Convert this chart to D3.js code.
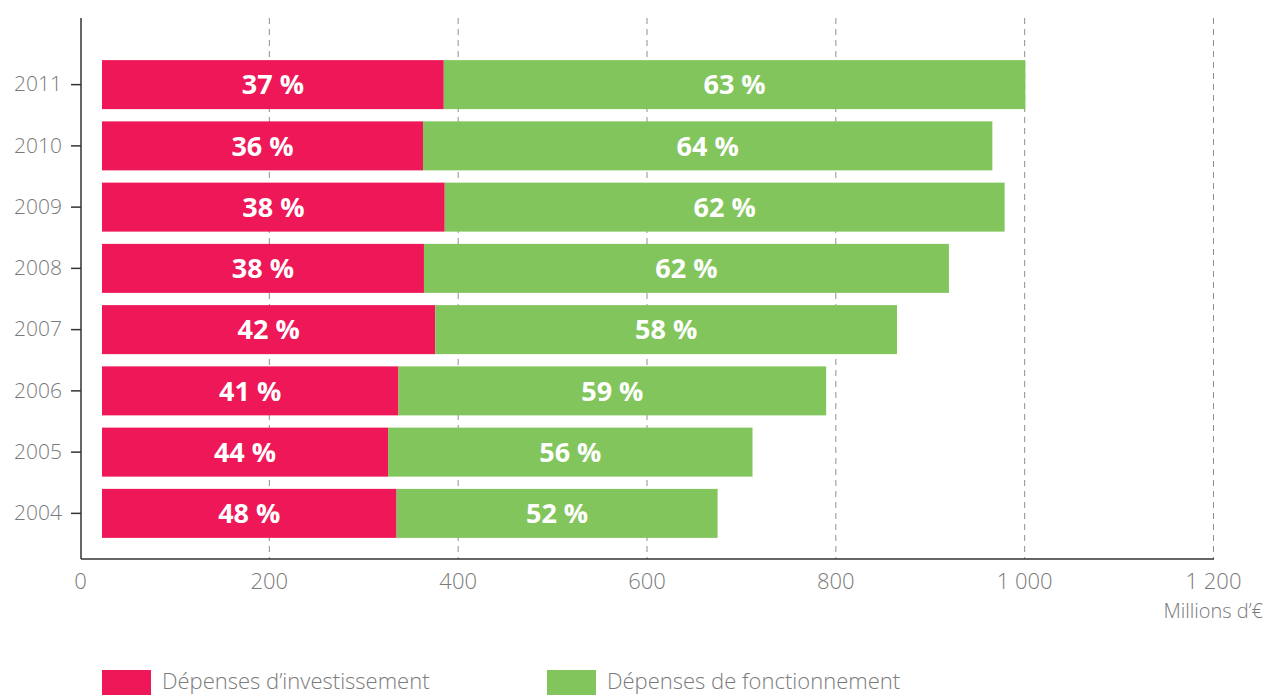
<!DOCTYPE html>
<html>
<head>
<meta charset="utf-8">
<script src="https://cdn.jsdelivr.net/npm/d3@7"></script>
<style>
  body { margin: 0; background: #fff; }
  svg { display: block; font-family: "Open Sans", sans-serif; }
</style>
</head>
<body>
<script>
// data, millions of euros
let years = ["2011", "2010", "2009", "2008", "2007", "2006", "2005", "2004"];
let investissement = [362, 340, 363, 341, 353, 314, 303, 312];
let fonctionnement = [616, 603, 593, 556, 489, 453, 386, 340];
let pctInvest = ["37 %", "36 %", "38 %", "38 %", "42 %", "41 %", "44 %", "48 %"];
let pctFonct = ["63 %", "64 %", "62 %", "62 %", "58 %", "59 %", "56 %", "52 %"];
let xTicks = [0, 200, 400, 600, 800, 1000, 1200];
let xTickLabels = ["0", "200", "400", "600", "800", "1 000", "1 200"];
let seriesNames = ["Dépenses d’investissement", "Dépenses de fonctionnement"];

let width = 1266;
let height = 695;
let red = "#ee1757";
let green = "#83c55d";
let textGray = "#7a7a7a";

let svg = d3.select("body").append("svg")
    .attr("width", width)
    .attr("height", height);

let x = d3.scaleLinear()
    .domain([0, 1200])
    .range([80, 1213]);

// the bars sit a little right of the axis in the original
let barGap = 22;
let xBar = d3.scaleLinear()
    .domain([0, 1200])
    .range([x(0) + barGap, x(1200) + barGap]);

let y = d3.scaleBand()
    .domain(years)
    .range([54, 544])
    .paddingInner(0.2)
    .paddingOuter(0.1);

let axisTop = 18;
let axisBottom = 559;

// dashed grid lines
svg.selectAll(".grid")
    .data(xTicks.slice(1))
    .join("line")
    .attr("class", "grid")
    .attr("x1", d => x(d) + 0.5)
    .attr("x2", d => x(d) + 0.5)
    .attr("y1", axisTop)
    .attr("y2", axisBottom)
    .attr("stroke", "#8f8f8f")
    .attr("stroke-width", 1)
    .attr("stroke-dasharray", "6,5");

let rows = years.map((yr, i) => ({
    year: yr,
    inv: investissement[i],
    fon: fonctionnement[i],
    pInv: pctInvest[i],
    pFon: pctFonct[i]
}));

// red part
svg.selectAll(".inv")
    .data(rows)
    .join("rect")
    .attr("class", "inv")
    .attr("x", xBar(0))
    .attr("y", d => y(d.year))
    .attr("width", d => xBar(d.inv) - xBar(0))
    .attr("height", y.bandwidth())
    .attr("fill", red);

// green part
svg.selectAll(".fon")
    .data(rows)
    .join("rect")
    .attr("class", "fon")
    .attr("x", d => xBar(d.inv))
    .attr("y", d => y(d.year))
    .attr("width", d => xBar(d.inv + d.fon) - xBar(d.inv))
    .attr("height", y.bandwidth())
    .attr("fill", green);

// percentage labels
svg.selectAll(".linv")
    .data(rows)
    .join("text")
    .attr("class", "linv")
    .attr("x", d => (xBar(0) + xBar(d.inv)) / 2)
    .attr("y", d => y(d.year) + y.bandwidth() / 2)
    .attr("dy", "0.36em")
    .attr("text-anchor", "middle")
    .attr("fill", "#fff")
    .style("font-weight", 700)
    .style("font-size", "27px")
    .text(d => d.pInv);

svg.selectAll(".lfon")
    .data(rows)
    .join("text")
    .attr("class", "lfon")
    .attr("x", d => (xBar(d.inv) + xBar(d.inv + d.fon)) / 2)
    .attr("y", d => y(d.year) + y.bandwidth() / 2)
    .attr("dy", "0.36em")
    .attr("text-anchor", "middle")
    .attr("fill", "#fff")
    .style("font-weight", 700)
    .style("font-size", "27px")
    .text(d => d.pFon);

// y axis
let yAxis = svg.append("g")
    .attr("transform", `translate(${x(0) + 1},0)`)
    .call(d3.axisLeft(y).tickSize(10).tickPadding(9));
yAxis.select(".domain").remove();
yAxis.selectAll(".tick line").attr("stroke", "#333").attr("stroke-width", 1.5);
yAxis.selectAll(".tick text")
    .attr("fill", textGray)
    .style("font-family", "'Open Sans', sans-serif")
    .style("font-weight", 300)
    .style("font-size", "21px");

svg.append("line")
    .attr("x1", x(0) + 1).attr("x2", x(0) + 1)
    .attr("y1", axisTop).attr("y2", axisBottom)
    .attr("stroke", "#333").attr("stroke-width", 1.5);

// x axis
svg.append("line")
    .attr("x1", x(0) + 1).attr("x2", x(1200) + 1)
    .attr("y1", axisBottom).attr("y2", axisBottom)
    .attr("stroke", "#333").attr("stroke-width", 1.5);

let xAxis = svg.append("g")
    .attr("transform", `translate(0,${axisBottom})`)
    .call(d3.axisBottom(x).tickValues(xTicks).tickSize(0).tickPadding(14)
        .tickFormat((d, i) => xTickLabels[i]));
xAxis.select(".domain").remove();
xAxis.selectAll(".tick text")
    .attr("fill", textGray)
    .style("font-family", "'Open Sans', sans-serif")
    .style("font-weight", 300)
    .style("font-size", "22px");

svg.append("text")
    .attr("x", 1263)
    .attr("y", 618)
    .attr("text-anchor", "end")
    .attr("fill", textGray)
    .style("font-weight", 300)
    .style("font-size", "20px")
    .text("Millions d’€");

// legend
let legend = svg.append("g")
    .attr("transform", "translate(102,670)");

let legendX = [0, 445];
let legendColors = [red, green];

legend.selectAll("rect")
    .data(seriesNames)
    .join("rect")
    .attr("x", (d, i) => legendX[i])
    .attr("y", 0)
    .attr("width", 49)
    .attr("height", 25)
    .attr("fill", (d, i) => legendColors[i]);

legend.selectAll("text")
    .data(seriesNames)
    .join("text")
    .attr("x", (d, i) => legendX[i] + 60)
    .attr("y", 19)
    .attr("fill", textGray)
    .style("font-weight", 300)
    .style("font-size", "22px")
    .text(d => d);
</script>
</body>
</html>
